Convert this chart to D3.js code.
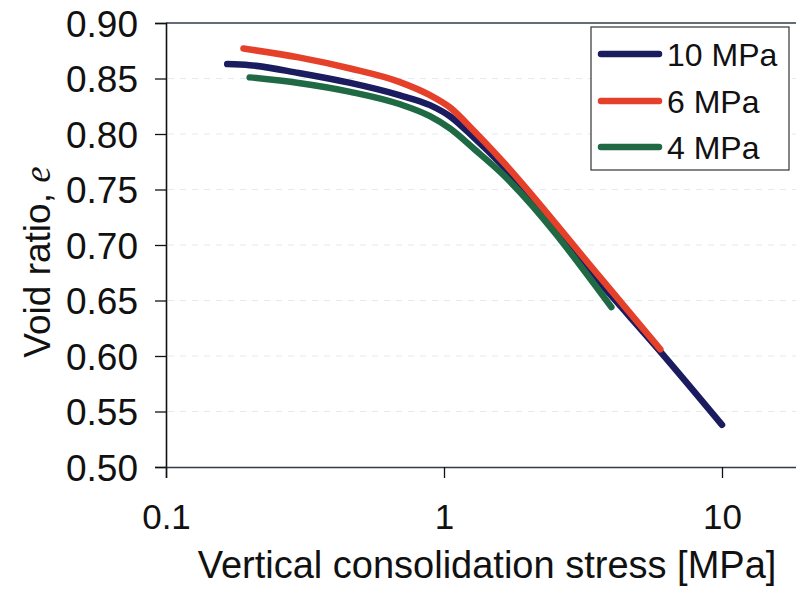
<!DOCTYPE html>
<html>
<head>
<meta charset="utf-8">
<script src="https://cdn.jsdelivr.net/npm/d3@7"></script>
<style>
  html, body { margin: 0; padding: 0; background: #fff; }
  svg { display: block; }
  text { font-family: "Liberation Sans", Arial, sans-serif; fill: #111; }
</style>
</head>
<body>
<svg id="chart" width="796" height="590"></svg>
<script>
// ---- data ----
const seriesNames = ["10 MPa", "6 MPa", "4 MPa"];
const stress10 = [0.166, 0.20, 0.30, 0.46, 0.69, 0.89, 1.05, 1.29, 1.59, 3.64, 6.0, 10.0];
const void10   = [0.863, 0.862, 0.855, 0.846, 0.835, 0.826, 0.816, 0.796, 0.774, 0.666, 0.604, 0.538];
const stress6  = [0.19, 0.30, 0.46, 0.69, 0.89, 1.05, 1.29, 1.59, 3.64, 6.0];
const void6    = [0.877, 0.869, 0.859, 0.847, 0.835, 0.824, 0.802, 0.778, 0.671, 0.606];
const stress4  = [0.20, 0.30, 0.46, 0.69, 0.89, 1.05, 1.29, 1.59, 4.0];
const void4    = [0.851, 0.846, 0.838, 0.827, 0.816, 0.805, 0.786, 0.766, 0.644];
const yTicks = [0.50, 0.55, 0.60, 0.65, 0.70, 0.75, 0.80, 0.85, 0.90];
const xTicks = [0.1, 1, 10];
const xTickLabels = ["0.1", "1", "10"];

// ---- layout ----
const svg = d3.select("#chart");
const W = 796, H = 590;
const mLeft = 166, mTop = 23, mBottom = 467;
const decade = 278;

const x = d3.scaleLog().domain([0.1, 100]).range([mLeft, mLeft + 3 * decade]);
const y = d3.scaleLinear().domain([0.50, 0.90]).range([mBottom, mTop]);

const colors = ["#1b1b5f", "#e5402a", "#1f6a45"];
const series = [
  stress10.map((s, i) => [s, void10[i]]),
  stress6.map((s, i) => [s, void6[i]]),
  stress4.map((s, i) => [s, void4[i]])
];

// faint gridlines
svg.append("g")
  .selectAll("line")
  .data(yTicks.filter(v => v > 0.5 && v < 0.9))
  .join("line")
  .attr("x1", mLeft + 2).attr("x2", W)
  .attr("y1", d => y(d)).attr("y2", d => y(d))
  .attr("stroke", "#dfeaf1")
  .attr("stroke-width", 1)
  .attr("stroke-dasharray", "6,6");

// top frame line
svg.append("line")
  .attr("x1", mLeft).attr("x2", W)
  .attr("y1", mTop).attr("y2", mTop)
  .attr("stroke", "#2f3b4a").attr("stroke-width", 1.6);

// y axis
const yAxis = d3.axisLeft(y).tickValues(yTicks).tickFormat(d3.format(".2f")).tickSize(11).tickPadding(17);
const gy = svg.append("g").attr("transform", `translate(${mLeft},0)`).call(yAxis);
gy.select(".domain").attr("stroke", "#111").attr("stroke-width", 1.6);
gy.selectAll(".tick line").attr("stroke", "#111").attr("stroke-width", 1.3);
gy.selectAll(".tick text").attr("font-size", 37).attr("font-family", "Liberation Sans, Arial, sans-serif").attr("fill", "#111").attr("dy", "0.36em");

// x axis
const xAxis = d3.axisBottom(x).tickValues(xTicks).tickFormat((d, i) => xTickLabels[i]).tickSize(11).tickPadding(26);
const gx = svg.append("g").attr("transform", `translate(0,${mBottom})`).call(xAxis);
gx.select(".domain").attr("stroke", "#2f3b4a").attr("stroke-width", 1.6);
gx.selectAll(".tick line").attr("stroke", "#111").attr("stroke-width", 1.3);
gx.selectAll(".tick text").attr("font-size", 35).attr("font-family", "Liberation Sans, Arial, sans-serif").attr("fill", "#111");

// axis titles
svg.append("text")
  .attr("x", 487).attr("y", 578)
  .attr("text-anchor", "middle")
  .attr("font-size", 38)
  .text("Vertical consolidation stress [MPa]");

const yl = svg.append("text")
  .attr("transform", "translate(50,262) rotate(-90)")
  .attr("text-anchor", "middle")
  .attr("font-size", 37);
yl.append("tspan").text("Void ratio, ");
yl.append("tspan").attr("font-family", "Liberation Serif, Times New Roman, serif").attr("font-style", "italic").text("e");

// curves
const line = d3.line().x(d => x(d[0])).y(d => y(d[1])).curve(d3.curveMonotoneX);
svg.append("g")
  .selectAll("path")
  .data([series[0], series[2], series[1]].map((d, i) => ({ d, c: [colors[0], colors[2], colors[1]][i] })))
  .join("path")
  .attr("d", o => line(o.d))
  .attr("fill", "none")
  .attr("stroke", o => o.c)
  .attr("stroke-width", 6.5)
  .attr("stroke-linecap", "round")
  .attr("stroke-linejoin", "round");

// legend
const lg = svg.append("g");
lg.append("rect")
  .attr("x", 591).attr("y", 27).attr("width", 198).attr("height", 143)
  .attr("fill", "#fff").attr("stroke", "#333").attr("stroke-width", 1.2);
const rowY = [54, 101, 147];
seriesNames.forEach((n, i) => {
  lg.append("line")
    .attr("x1", 601).attr("x2", 659)
    .attr("y1", rowY[i]).attr("y2", rowY[i])
    .attr("stroke", colors[i]).attr("stroke-width", 6.5).attr("stroke-linecap", "round");
  lg.append("text")
    .attr("x", 667).attr("y", rowY[i] + 12)
    .attr("font-size", 32)
    .text(n);
});
</script>
</body>
</html>
